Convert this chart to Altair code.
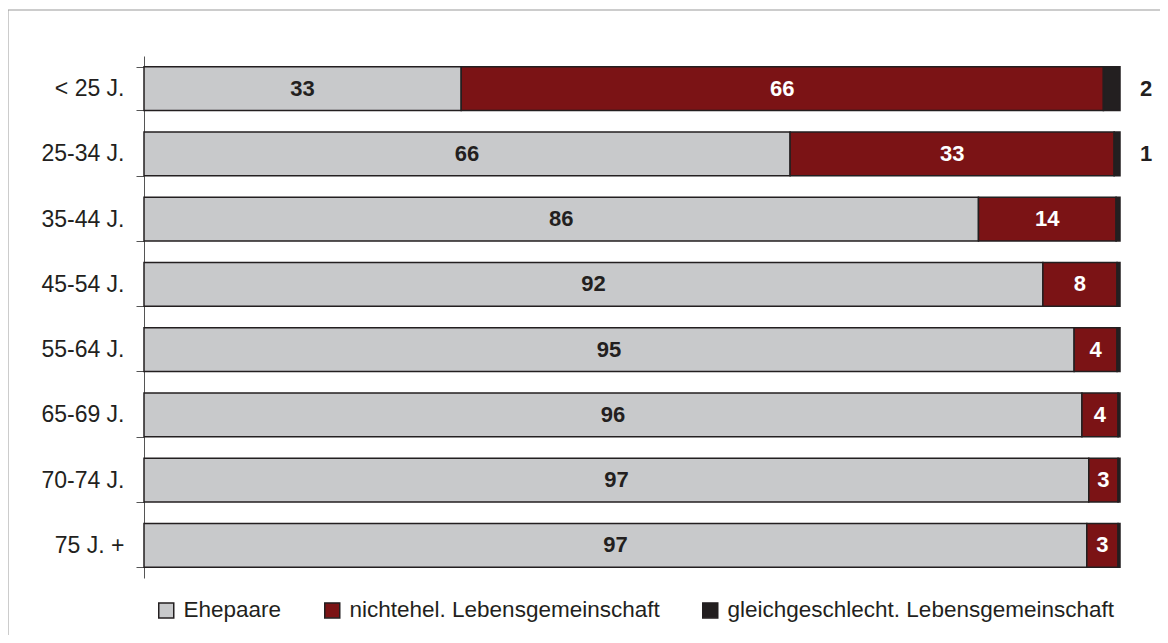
import altair as alt
import pandas as pd

categories = ["< 25 J.", "25-34 J.", "35-44 J.", "45-54 J.", "55-64 J.", "65-69 J.", "70-74 J.", "75 J. +"]
series = ["Ehepaare", "nichtehel. Lebensgemeinschaft", "gleichgeschlecht. Lebensgemeinschaft"]
ehepaare = [32.5, 66.2, 85.5, 92.1, 95.3, 96.1, 96.8, 96.6]
nichtehel = [65.8, 33.2, 14.1, 7.6, 4.4, 3.7, 3.0, 3.2]
gleich = [1.7, 0.6, 0.4, 0.3, 0.3, 0.2, 0.2, 0.2]
lab_ehe = [33, 66, 86, 92, 95, 96, 97, 97]
lab_nicht = [66, 33, 14, 8, 4, 4, 3, 3]
lab_gleich = [2, 1, 0, 0, 0, 0, 0, 0]
colors = ["#C8C9CB", "#7B1315", "#231F20"]
text_colors = ["#231F20", "#FFFFFF", "#231F20"]

rows = []
for s_i, (vals, labs) in enumerate([(ehepaare, lab_ehe), (nichtehel, lab_nicht), (gleich, lab_gleich)]):
    for c, v, l in zip(categories, vals, labs):
        rows.append({"cat": c, "series": series[s_i], "ord": s_i, "value": v,
                     "label": str(l) if l > 0 else "", "tcol": text_colors[s_i]})
df = pd.DataFrame(rows)

FONT = "Liberation Sans"
DARK = "#231F20"

yscale = alt.Scale(paddingInner=0.33, paddingOuter=0.165)
yenc = alt.Y("cat:N", sort=categories, scale=yscale,
             axis=alt.Axis(title=None, tickBand="extent", tickSize=8, labelPadding=12,
                           labelFontSize=23, labelFont=FONT, labelColor=DARK,
                           domainColor="#555555", tickColor="#555555",
                           domainWidth=1, tickWidth=1, grid=False, ticks=True))
xscale = alt.Scale(domain=[0, 100])

base = alt.Chart(df)

bars = base.mark_bar(stroke=DARK, strokeWidth=1.5).encode(
    x=alt.X("value:Q", stack="zero", scale=xscale, axis=None),
    y=yenc,
    color=alt.Color("series:N", sort=series,
                    scale=alt.Scale(domain=series, range=colors),
                    legend=alt.Legend(orient="none", legendX=11, legendY=543,
                                      direction="horizontal", title=None,
                                      symbolType="square", symbolSize=225,
                                      symbolStrokeColor=DARK, symbolStrokeWidth=1.5,
                                      labelFontSize=22.5, labelFont=FONT, labelColor=DARK,
                                      labelLimit=600, columnPadding=39, labelOffset=6)),
    order=alt.Order("ord:Q"),
)

inner = base.transform_stack(
    stack="value", as_=["x0", "x1"], groupby=["cat"], sort=[alt.SortField("ord")]
).transform_calculate(
    mid="(datum.x0 + datum.x1) / 2"
).transform_filter(
    alt.datum.ord < 2
).mark_text(font=FONT, fontWeight="bold", fontSize=22, baseline="middle").encode(
    x=alt.X("mid:Q", scale=xscale, axis=None),
    y=alt.Y("cat:N", sort=categories),
    text="label:N",
    color=alt.Color("tcol:N", scale=None),
)

outer = base.transform_filter(
    (alt.datum.ord == 2) & (alt.datum.label != "")
).transform_calculate(
    total="100"
).mark_text(font=FONT, fontWeight="bold", fontSize=22, align="left", dx=20,
            baseline="middle", color=DARK).encode(
    x=alt.X("total:Q", scale=xscale, axis=None),
    y=alt.Y("cat:N", sort=categories),
    text="label:N",
)

frame_data = alt.Data(values=[{"k": 1}])
frame_left = alt.Chart(frame_data).mark_rule(color="#999999", strokeWidth=1).encode(
    x=alt.value(-136), y=alt.value(-46), y2=alt.value(600))
frame_top = alt.Chart(frame_data).mark_rule(color="#999999", strokeWidth=1).encode(
    y=alt.value(-46), x=alt.value(-136), x2=alt.value(1030))

chart = alt.layer(frame_left, frame_top, bars, inner, outer).properties(
    width=976, height=522,
    background="white",
    autosize=alt.AutoSizeParams(type="none"),
    padding={"left": 136, "top": 48, "right": 40, "bottom": 57},
).configure_view(strokeWidth=0).configure_axis(grid=False)

chart.save("out.html", embed_options={"renderer": "svg", "actions": False})
